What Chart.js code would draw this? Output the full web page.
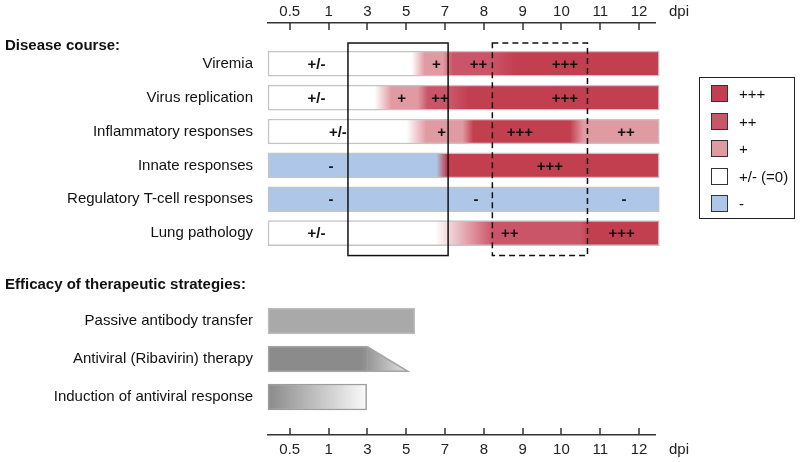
<!DOCTYPE html>
<html>
<head>
<meta charset="utf-8">
<script src="https://cdn.jsdelivr.net/npm/chart.js@4.4.1/dist/chart.umd.min.js"></script>
<style>
  body { margin: 0; background: #fff; }
  #wrap { position: relative; width: 800px; height: 462px; background: #fff; font-family: "Liberation Sans", Arial, sans-serif; color: #111; }
  .box { position: absolute; left: 0; width: 800px; }
  .hd { position: absolute; left: 5px; font-weight: bold; font-size: 15px; line-height: 18px; }
  #legend { position: absolute; left: 699px; top: 77px; width: 96px; height: 142px; box-sizing: border-box;
            border: 1.5px solid #222; padding-top: 2px; font-size: 15px; }
  #legend .it { height: 27.5px; display: flex; align-items: center; }
  #legend .sw { width: 17px; height: 17px; box-sizing: border-box; border: 1.5px solid #333; margin-left: 11px; margin-right: 11px; }
</style>
</head>
<body>
<div id="wrap">
  <div class="box" style="top:0;height:262px"><canvas id="course"></canvas></div>
  <div class="box" style="top:262px;height:200px"><canvas id="therapy"></canvas></div>
  <div class="hd" style="top:36px">Disease course:</div>
  <div class="hd" style="top:275px">Efficacy of therapeutic strategies:</div>
  <div id="legend"></div>
</div>
<script>
// ---- data (x positions are in dpi tick-index units: 0 = "0.5", 9 = "12")
const dpiLabels = ["0.5", "1", "3", "5", "7", "8", "9", "10", "11", "12"];
const axisFrom = -0.56, axisTo = 9.41, barEnd = 9.52;

const levelKeys = ["+++", "++", "+", "0", "-"];
const levelNames = ["+++", "++", "+", "+/- (=0)", "-"];
const levelColors = ["#c23f50", "#cb5568", "#e09aa2", "#ffffff", "#aec7e8"];

const diseaseRows = ["Viremia", "Virus replication", "Inflammatory responses",
  "Innate responses", "Regulatory T-cell responses", "Lung pathology"];
// colour transitions along each row: [dpi index, level]
const viremiaLevels = [[3.14, "0"], [3.48, "+"], [3.95, "+"], [4.2, "++"], [5.2, "++"], [5.8, "+++"]];
const virusLevels = [[2.19, "0"], [2.62, "+"], [3.3, "+"], [3.55, "++"], [4.15, "++"], [4.6, "+++"]];
const inflamLevels = [[3.01, "0"], [3.52, "+"], [4.45, "+"], [4.73, "+++"], [7.22, "+++"], [7.56, "+"]];
const innateLevels = [[3.78, "-"], [4.04, "+++"]];
const regLevels = [[0, "-"]];
const lungLevels = [[3.74, "0"], [5.24, "++"], [7.48, "++"], [7.73, "+++"]];
const diseaseLevels = [viremiaLevels, virusLevels, inflamLevels, innateLevels, regLevels, lungLevels];

// level marks written inside each row: [dpi index, text]
const diseaseMarks = [
  [[0.69, "+/-"], [3.78, "+"], [4.86, "++"], [7.09, "+++"]],
  [[0.69, "+/-"], [2.88, "+"], [3.87, "++"], [7.09, "+++"]],
  [[1.24, "+/-"], [3.91, "+"], [5.93, "+++"], [8.66, "++"]],
  [[1.06, "-"], [6.70, "+++"]],
  [[1.06, "-"], [4.80, "-"], [8.61, "-"]],
  [[0.69, "+/-"], [5.67, "++"], [8.55, "+++"]],
];
// highlighted windows: [from, to, style], spanning rows -0.61 .. 5.66
const windows = [[1.5, 4.08, "solid"], [5.22, 7.67, "dashed"]];
const windowRows = [-0.61, 5.66];

const therapyRows = ["Passive antibody transfer", "Antiviral (Ribavirin) therapy", "Induction of antiviral response"];
const therapyEnds = [3.22, 2.01, 1.98];
const therapyTaper = [null, 3.04, null];
const therapyShades = [
  [[0, "#a9a9a9"]],
  [[1.85, "#8b8b8b"], [3.04, "#e2e2e2"]],
  [[axisFrom, "#8a8a8a"], [1.98, "#fafafa"]],
];
const therapyBorders = ["#bdbdbd", "#a5a5a5", "#9d9d9d"];

Chart.defaults.font.family = '"Liberation Sans", Arial, sans-serif';
Chart.defaults.font.size = 15;
Chart.defaults.color = "#111";

const levelColor = k => levelColors[levelKeys.indexOf(k)];

function gradient(chart, stops) {
  if (stops.length === 1) return stops[0][1];
  const xs = chart.scales.x;
  if (!xs || !chart.chartArea) return stops[0][1];
  const p0 = xs.getPixelForValue(stops[0][0]), p1 = xs.getPixelForValue(stops[stops.length - 1][0]);
  if (!isFinite(p0) || !isFinite(p1) || p1 === p0) return stops[0][1];
  const g = chart.ctx.createLinearGradient(p0, 0, p1, 0);
  stops.forEach(([v, c]) => g.addColorStop(Math.min(1, Math.max(0, (xs.getPixelForValue(v) - p0) / (p1 - p0))), c));
  return g;
}

// inward tick marks + "dpi" unit label
const dpiAxis = {
  id: "dpiAxis",
  afterDraw(chart, args, opts) {
    const { ctx, chartArea } = chart, xs = chart.scales.x;
    const top = opts.side === "top";
    const edge = top ? chartArea.top : chartArea.bottom, dir = top ? 1 : -1;
    ctx.save();
    ctx.strokeStyle = "#333"; ctx.lineWidth = 1.5;
    xs.ticks.forEach(t => {
      const px = Math.round(xs.getPixelForValue(t.value));
      ctx.beginPath(); ctx.moveTo(px, edge); ctx.lineTo(px, edge + dir * 7); ctx.stroke();
    });
    const pad = xs.options.ticks.padding;
    ctx.fillStyle = "#222"; ctx.font = '15px "Liberation Sans", Arial, sans-serif';
    ctx.textBaseline = "middle"; ctx.textAlign = "left";
    ctx.fillText("dpi", chartArea.right + 14, top ? edge - pad - 9 : edge + pad + 9);
    ctx.restore();
  },
};

const courseNotes = {
  id: "courseNotes",
  afterDatasetsDraw(chart) {
    const { ctx } = chart, xs = chart.scales.x, ys = chart.scales.y;
    ctx.save();
    ctx.fillStyle = "#111"; ctx.font = 'bold 15px "Liberation Sans", Arial, sans-serif';
    ctx.textAlign = "center"; ctx.textBaseline = "middle";
    diseaseMarks.forEach((marks, r) => marks.forEach(([v, t]) =>
      ctx.fillText(t, xs.getPixelForValue(v), ys.getPixelForValue(r) + 1)));
    ctx.strokeStyle = "#111"; ctx.lineWidth = 1.5;
    windows.forEach(([a, b, style]) => {
      ctx.setLineDash(style === "dashed" ? [6, 4] : []);
      const x0 = xs.getPixelForValue(a), x1 = xs.getPixelForValue(b);
      const y0 = ys.getPixelForValue(windowRows[0]), y1 = ys.getPixelForValue(windowRows[1]);
      ctx.strokeRect(x0, y0, x1 - x0, y1 - y0);
    });
    ctx.restore();
  },
};

const taper = {
  id: "taper",
  afterDatasetsDraw(chart) {
    const { ctx } = chart, xs = chart.scales.x, meta = chart.getDatasetMeta(0);
    therapyTaper.forEach((tip, i) => {
      if (tip == null) return;
      const el = meta.data[i];
      const { x, y, height } = el.getProps(["x", "y", "height"], true);
      const tx = xs.getPixelForValue(tip), t = y - height / 2, b = y + height / 2;
      ctx.save();
      ctx.beginPath(); ctx.moveTo(x - 0.5, t); ctx.lineTo(tx, b); ctx.lineTo(x - 0.5, b); ctx.closePath();
      ctx.fillStyle = el.options.backgroundColor; ctx.fill();
      ctx.beginPath(); ctx.moveTo(x - 0.5, t + 0.75); ctx.lineTo(tx, b - 0.75); ctx.lineTo(x - 0.5, b - 0.75);
      ctx.strokeStyle = el.options.borderColor; ctx.lineWidth = 1.5; ctx.stroke();
      ctx.restore();
    });
  },
};

function xScale(position, pad, height) {
  return {
    type: "linear", position, min: axisFrom, max: axisTo, offset: false,
    afterBuildTicks: s => { s.ticks = dpiLabels.map((_, i) => ({ value: i })); },
    afterFit: s => { s.height = height; },
    ticks: { autoSkip: false, maxRotation: 0, padding: pad, color: "#222", callback: v => dpiLabels[v] },
    grid: { display: false, drawTicks: false, offset: false },
    border: { display: true, color: "#333", width: 1.5 },
  };
}
function yScale(names, min, max) {
  return {
    type: "linear", reverse: true, min, max, offset: false,
    afterBuildTicks: s => { s.ticks = names.map((_, i) => ({ value: i })); },
    afterFit: s => { s.width = 268; s.paddingTop = 0; s.paddingBottom = 0; },
    ticks: { padding: 15, color: "#111", callback: v => names[v] },
    grid: { display: false, drawTicks: false, offset: false },
    border: { display: false },
  };
}

// legend
document.getElementById("legend").innerHTML = levelNames.map((n, i) =>
  `<div class="it"><span class="sw" style="background:${levelColors[i]}"></span>${n}</div>`).join("");

new Chart(document.getElementById("course"), {
  type: "bar",
  data: {
    datasets: [{
      data: diseaseRows.map((_, i) => ({ y: i, x: [axisFrom, barEnd] })),
      backgroundColor: c => c.type === "data"
        ? gradient(c.chart, diseaseLevels[c.dataIndex].map(([v, k]) => [v, levelColor(k)])) : "#fff",
      borderColor: "#c4c4c4", borderWidth: 1.5, borderSkipped: false,
      barThickness: 25, clip: false,
    }],
  },
  options: {
    indexAxis: "y", responsive: true, maintainAspectRatio: false, animation: false,
    layout: { padding: { left: 0, right: 145, top: 0, bottom: 0 } },
    plugins: { legend: { display: false }, tooltip: { enabled: false }, dpiAxis: { side: "top" } },
    scales: { x: xScale("top", 2, 23), y: yScale(diseaseRows, -1.2, 5.85) },
  },
  plugins: [dpiAxis, courseNotes],
});

new Chart(document.getElementById("therapy"), {
  type: "bar",
  data: {
    datasets: [{
      data: therapyRows.map((_, i) => ({ y: i, x: [axisFrom, therapyEnds[i]] })),
      backgroundColor: c => c.type === "data" ? gradient(c.chart, therapyShades[c.dataIndex]) : "#aaa",
      borderColor: therapyBorders, borderWidth: 1.5,
      borderSkipped: c => therapyTaper[c.dataIndex] != null ? "right" : false,
      barThickness: 26, clip: false,
    }],
  },
  options: {
    indexAxis: "y", responsive: true, maintainAspectRatio: false, animation: false,
    layout: { padding: { left: 0, right: 145, top: 2, bottom: 0 } },
    plugins: { legend: { display: false }, tooltip: { enabled: false }, dpiAxis: { side: "bottom" } },
    scales: { x: xScale("bottom", 6, 27), y: yScale(therapyRows, -1.5, 3) },
  },
  plugins: [dpiAxis, taper],
});
</script>
</body>
</html>
